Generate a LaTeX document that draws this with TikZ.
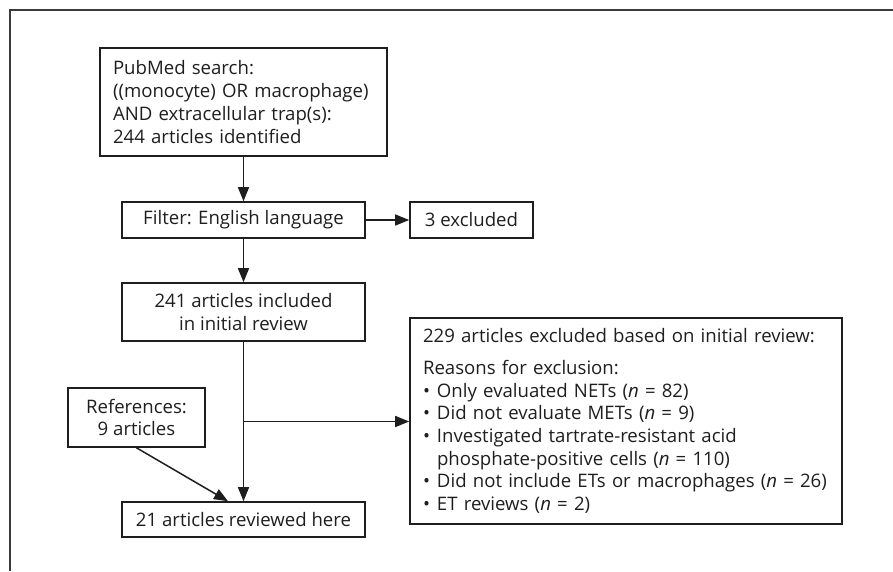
\documentclass[tikz,border=0pt]{standalone}
\usepackage{fontspec}
\setmainfont{Open Sans}
\usetikzlibrary{arrows.meta,calc,positioning}
\definecolor{ink}{HTML}{1E1E1E}
\definecolor{framegray}{HTML}{3A3A3A}

\begin{document}
\begin{tikzpicture}[x=1pt,y=-1pt,
  box/.style={draw=ink,line width=1.6pt,inner sep=0pt,align=center,text=ink,
    font=\fontsize{18.6}{22.7}\selectfont},
  flow/.style={draw=ink,line width=1.5pt,-{Triangle[length=14pt,width=11pt]}}]
  \useasboundingbox (0,0) rectangle (893,571);
  \draw[framegray,line width=1.2pt] (10,571) -- (10,10) -- (893,10);
  \node[box,minimum width=287pt,minimum height=108pt,text width=261pt,align=left] (search) at (243.5,102)
    {PubMed search:\\((monocyte) OR macrophage)\\AND extracellular trap(s):\\244 articles identified};
  \node[box,minimum width=243pt,minimum height=36pt] (filter) at (243.5,220) {Filter: English language};
  \node[box,minimum width=123pt,minimum height=36pt] (lang) at (471.5,220) {3 excluded};
  \node[box,minimum width=243pt,minimum height=58pt] (included) at (243.5,312) {241 articles included\\in initial review};
  \node[box,minimum width=137pt,minimum height=59pt] (refs) at (136.5,417.5) {References:\\9 articles};
  \node[box,minimum width=243pt,minimum height=35pt] (reviewed) at (243.5,519.5) {21 articles reviewed here};
  \node[box,minimum width=432pt,minimum height=206pt,text width=406pt,align=left] (reasons) at (626,421)
    {229 articles excluded based on initial review:\\[9pt]
     Reasons for exclusion:\\
     \makebox[14pt][l]{\textbullet}Only evaluated NETs (\textit{n} = 82)\\
     \makebox[14pt][l]{\textbullet}Did not evaluate METs (\textit{n} = 9)\\
     \makebox[14pt][l]{\textbullet}Investigated tartrate-resistant acid\\
     \hspace*{14pt}phosphate-positive cells (\textit{n} = 110)\\
     \makebox[14pt][l]{\textbullet}Did not include ETs or macrophages (\textit{n} = 26)\\
     \makebox[14pt][l]{\textbullet}ET reviews (\textit{n} = 2)};
  \coordinate (branch) at ($(included.south)!0.5!(reviewed.north)$);
  \draw[flow] (search) -- (filter);
  \draw[flow] (filter) -- (lang);
  \draw[flow] (filter) -- (included);
  \draw[flow] (included) -- (reviewed);
  \draw[flow] (branch) -- (branch -| reasons.west);
  \draw[flow] (refs.south) -- ($(reviewed.north)+(-15.5,0)$);
\end{tikzpicture}
\end{document}
